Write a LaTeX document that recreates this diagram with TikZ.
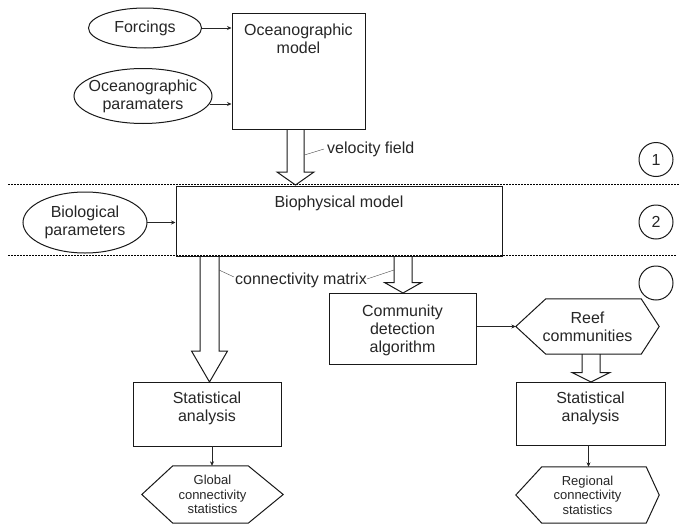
\documentclass[tikz,border=0pt]{standalone}
\usepackage{fontspec}
\setmainfont{Liberation Sans}
\usetikzlibrary{calc,arrows.meta}
\tikzset{
  every node/.style={font=\fontsize{16}{18}\selectfont, text=black!85},
  box/.style={draw=black!90, line width=1pt, inner sep=0pt},
  txt/.style={align=center, inner sep=0pt},
  smalltxt/.style={align=center, inner sep=0pt, font=\fontsize{13}{14.5}\selectfont},
  outline/.style={draw=black!90, line width=1pt},
  thinarrow/.style={draw=black!85, line width=0.6pt, -{Stealth[length=4.5pt,width=4pt]}},
  hollow/.style={draw=black!90, line width=1pt, line join=miter},
  sepline/.style={line width=0.6pt, dash pattern=on 2pt off 1pt},
  leader/.style={line width=0.4pt, black!70},
  num/.style={draw=black!90, circle, minimum size=34pt, inner sep=0pt, line width=1pt},
}
\newcommand{\hollowarrow}[5]{%
  \draw[hollow] let \p1=(#1), \p2=(#2) in
    ({\x2-#3pt},\y1) -- ({\x2-#3pt},{\y2+#5pt}) -- ({\x2-#4pt},{\y2+#5pt}) -- (\x2,\y2)
    -- ({\x2+#4pt},{\y2+#5pt}) -- ({\x2+#3pt},{\y2+#5pt}) -- ({\x2+#3pt},\y1);}
\begin{document}
\begin{tikzpicture}[x=1pt,y=-1pt]
\useasboundingbox[fill=white] (0,0) rectangle (679,530);

% separators
\draw[sepline] (8,184.5) -- (679,184.5);
\draw[sepline] (8,255.5) -- (676,255.5);

% ellipses
\node[txt] (forc) at (145,28) {Forcings};
\draw[outline] (forc.center) ellipse [x radius=56.5, y radius=20];
\node[txt] (ocp) at (143,96) {Oceanographic\\paramaters};
\draw[outline] (ocp.center) ellipse [x radius=69, y radius=27.5];
\node[txt] (biop) at (85,222.5) {Biological\\parameters};
\draw[outline] (biop.center) ellipse [x radius=62, y radius=30.5];

% boxes
\node[box, minimum width=133pt, minimum height=116pt] (om) at (298.5,71) {};
\node[txt] (omt) at (298.5,39) {Oceanographic\\model};
\node[box, minimum width=326pt, minimum height=70pt] (bio) at (339,221) {};
\node[txt] (biot) at (339,203) {Biophysical model};
\node[box, minimum width=147pt, minimum height=71pt] (comm) at (402.5,328.5) {};
\node[txt] (commt) at (402.5,330) {Community\\detection\\algorithm};
\node[box, minimum width=148pt, minimum height=64pt] (st1) at (207,414) {};
\node[txt] (st1t) at (207,408) {Statistical\\analysis};
\node[box, minimum width=149pt, minimum height=63pt] (st2) at (590.5,413.5) {};
\node[txt] (st2t) at (590.5,408) {Statistical\\analysis};

% hexagons
\node[txt, minimum width=143pt, minimum height=55pt] (reef) at (587.5,326.5) {Reef\\communities};
\draw[outline] (reef.west) -- ([xshift=30pt]reef.north west) -- ([xshift=-18pt]reef.north east)
  -- (reef.east) -- ([xshift=-18pt]reef.south east) -- ([xshift=30pt]reef.south west) -- cycle;
\node[smalltxt, minimum width=141pt, minimum height=57pt] (glob) at (212.5,494.5) {Global\\connectivity\\statistics};
\draw[outline] (glob.west) -- ([xshift=31pt]glob.north west) -- ([xshift=-35pt]glob.north east)
  -- (glob.east) -- ([xshift=-35pt]glob.south east) -- ([xshift=31pt]glob.south west) -- cycle;
\node[smalltxt, minimum width=143pt, minimum height=56pt] (reg) at (587.5,495) {Regional\\connectivity\\statistics};
\draw[outline] (reg.west) -- ([xshift=26pt]reg.north west) -- ([xshift=-13pt]reg.north east)
  -- (reg.east) -- ([xshift=-13pt]reg.south east) -- ([xshift=26pt]reg.south west) -- cycle;

% numbered circles
\node[num] (c1) at (656,159.5) {1};
\node[num] (c2) at (656,222) {2};
\node[num] (c3) at (656,283) {};

% thin arrows
\coordinate (forcE) at (202,28);
\coordinate (omW1) at (om.west |- forcE);
\draw[thinarrow] (forcE) -- (omW1);
\coordinate (ocpE) at (209.5,104);
\coordinate (omW2) at (om.west |- ocpE);
\draw[thinarrow] (ocpE) -- (omW2);
\coordinate (biopE) at (147,222.5);
\coordinate (bioW) at (bio.west |- biopE);
\draw[thinarrow] (biopE) -- (bioW);
\coordinate (commE) at (comm.east |- reef.west);
\draw[thinarrow] (commE) -- (reef.west);
\coordinate (st1S) at (212,446);
\coordinate (globN) at (glob.north -| st1S);
\draw[thinarrow] (st1S) -- (globN);
\coordinate (st2S) at (588.5,445);
\coordinate (regN) at (reg.north -| st2S);
\draw[thinarrow] (st2S) -- (regN);

% hollow arrows
\coordinate (tip1) at (295.5,185);
\hollowarrow{om.south}{tip1}{8.5}{18.5}{13}
\coordinate (tip2) at (209.5,382);
\hollowarrow{bio.south}{tip2}{9.5}{18}{31}
\coordinate (tip3) at (403,293);
\hollowarrow{bio.south}{tip3}{9}{18.5}{10.5}
\coordinate (tip4) at (591,382);
\hollowarrow{reef.south}{tip4}{9}{19}{9.5}

% labels with leaders
\node[txt, anchor=west] (vel) at (327,149) {velocity field};
\coordinate (velA) at (304.5,155);
\draw[leader] (velA) -- ($(vel.west)+(-3,0)$);
\node[txt] (conn) at (301,280) {connectivity matrix};
\coordinate (connA) at (219,270);
\coordinate (connB) at (394,270);
\draw[leader] (connA) -- ($(conn.west)+(-1,-3)$);
\draw[leader] ($(conn.east)+(0,-1)$) -- (connB);
\end{tikzpicture}
\end{document}
